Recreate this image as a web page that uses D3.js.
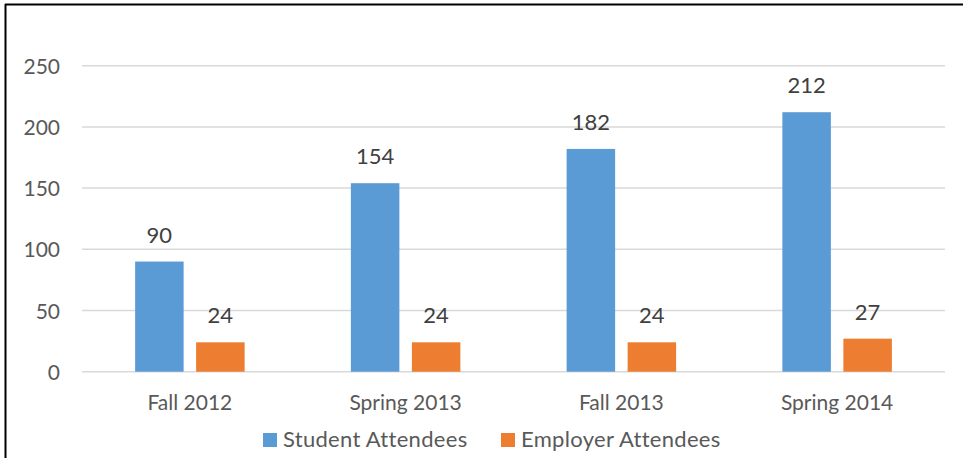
<!DOCTYPE html>
<html>
<head>
<meta charset="utf-8">
<script src="https://cdn.jsdelivr.net/npm/d3@7"></script>
<style>
  body { margin: 0; background: #fff; }
  svg { display: block; font-family: Lato, "Open Sans", sans-serif; }
</style>
</head>
<body>
<svg id="chart" width="963" height="458"></svg>
<script>
var categories = ["Fall 2012", "Spring 2013", "Fall 2013", "Spring 2014"]
var studentAttendees = [90, 154, 182, 212]
var employerAttendees = [24, 24, 24, 27]
var seriesNames = ["Student Attendees", "Employer Attendees"]
var colors = ["#5b9bd5", "#ed7d31"]
var yTicks = [0, 50, 100, 150, 200, 250]

var svg = d3.select("#chart")
var fontSize = 21

// frame
svg.append("line").attr("x1", 5.5).attr("x2", 5.5).attr("y1", 4).attr("y2", 458)
    .attr("stroke", "#000").attr("stroke-width", 2)
svg.append("line").attr("x1", 5).attr("x2", 963).attr("y1", 4.5).attr("y2", 4.5)
    .attr("stroke", "#000").attr("stroke-width", 2)

var plotLeft = 82, plotRight = 945, plotTop = 65.7, plotBottom = 371.7

var x = d3.scaleBand().domain(categories).range([plotLeft, plotRight])
var y = d3.scaleLinear().domain([0, 250]).range([plotBottom, plotTop])

// gridlines
svg.append("g").selectAll("line")
    .data(yTicks)
    .join("line")
    .attr("x1", plotLeft).attr("x2", plotRight)
    .attr("y1", d => y(d)).attr("y2", d => y(d))
    .attr("stroke", "#d9d9d9").attr("stroke-width", 1.5)

// y axis labels
svg.append("g").selectAll("text")
    .data(yTicks)
    .join("text")
    .attr("x", 60)
    .attr("y", d => y(d) + 8)
    .attr("text-anchor", "end")
    .attr("font-size", fontSize)
    .attr("fill", "#595959")
    .text(d => d)

var barW = 48.5, gap = 12.5
var series = [studentAttendees, employerAttendees]

series.forEach(function(vals, s) {
    var g = svg.append("g")
    var offset = s == 0 ? -(gap / 2 + barW) : gap / 2
    var data = categories.map((c, i) => ({ c: c, v: vals[i] }))
    g.selectAll("rect")
        .data(data)
        .join("rect")
        .attr("x", d => x(d.c) + x.bandwidth() / 2 + offset)
        .attr("y", d => y(d.v))
        .attr("width", barW)
        .attr("height", d => y(0) - y(d.v))
        .attr("fill", colors[s])
    g.selectAll("text")
        .data(data)
        .join("text")
        .attr("x", d => x(d.c) + x.bandwidth() / 2 + offset + barW / 2)
        .attr("y", d => y(d.v) - 19)
        .attr("text-anchor", "middle")
        .attr("font-size", 22)
        .attr("fill", "#404040")
        .text(d => d.v)
})

// category labels
svg.append("g").selectAll("text")
    .data(categories)
    .join("text")
    .attr("x", d => x(d) + x.bandwidth() / 2)
    .attr("y", 410)
    .attr("text-anchor", "middle")
    .attr("font-size", fontSize)
    .attr("fill", "#595959")
    .text(d => d)

// legend
var legendX = [263, 501]
var legend = svg.append("g").selectAll("g")
    .data(seriesNames)
    .join("g")
    .attr("transform", (d, i) => "translate(" + legendX[i] + ",433)")
legend.append("rect")
    .attr("width", 14).attr("height", 14)
    .attr("fill", (d, i) => colors[i])
legend.append("text")
    .attr("x", 20).attr("y", 14)
    .attr("font-size", 22)
    .attr("letter-spacing", 0.3)
    .attr("fill", "#595959")
    .text(d => d)
</script>
</body>
</html>
